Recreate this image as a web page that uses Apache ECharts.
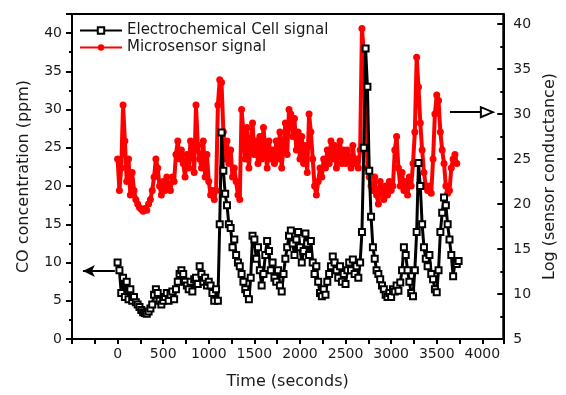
<!DOCTYPE html>
<html>
<head>
<meta charset="utf-8">
<script src="https://cdn.jsdelivr.net/npm/echarts@6/dist/echarts.min.js"></script>
<style>
html, body { margin: 0; padding: 0; background: #fff; }
#chart { width: 566px; height: 395px; }
</style>
</head>
<body>
<div id="chart"></div>
<script>
// sampling step of both signals (seconds)
var timeStep = 20;

// Electrochemical cell signal, CO (ppm), left axis, t = 0, 20, 40 ...
var cellSignal = [
	10.0, 9.0, 6.0, 8.0, 5.5, 7.5, 5.2, 6.5, 5.0, 5.5,
	4.8, 4.5, 4.2, 3.8, 3.5, 3.4, 3.3, 3.6, 4.0, 4.5,
	5.8, 6.5, 6.0, 5.0, 4.5, 5.0, 5.5, 6.0, 5.0, 5.8,
	6.2, 5.2, 6.5, 7.5, 8.5, 9.0, 8.5, 7.5, 7.0, 6.5,
	7.5, 6.2, 7.8, 8.0, 7.2, 9.5, 8.5, 7.5, 8.0, 7.0,
	7.5, 7.0, 6.0, 5.0, 6.5, 5.0, 15.0, 27.0, 22.0, 19.0,
	17.5, 15.0, 14.5, 12.0, 13.0, 11.0, 10.0, 9.5, 8.5, 7.5,
	6.5, 6.0, 5.2, 8.0, 13.5, 13.0, 10.5, 12.0, 9.0, 7.0,
	8.5, 11.0, 12.8, 11.5, 9.0, 10.0, 8.0, 7.5, 9.0, 7.0,
	6.2, 8.5, 10.5, 12.0, 13.5, 14.2, 12.5, 11.0, 13.0, 14.0,
	12.0, 10.0, 11.5, 13.8, 12.5, 11.0, 12.8, 10.0, 8.5, 9.5,
	7.5, 6.0, 5.6, 6.5, 5.8, 7.5, 8.5, 9.5, 10.8, 10.0,
	9.0, 8.0, 9.5, 7.5, 8.5, 7.2, 9.0, 10.0, 9.0, 10.4,
	8.5, 9.5, 8.0, 10.0, 14.0, 25.0, 38.0, 33.0, 22.0, 16.0,
	12.0, 10.5, 9.0, 8.5, 7.8, 7.0, 6.5, 5.8, 5.5, 6.0,
	5.5, 6.5, 6.2, 7.0, 6.3, 7.4, 9.0, 12.0, 11.0, 9.0,
	7.5, 6.0, 5.6, 9.0, 14.0, 23.0, 20.0, 15.0, 12.0, 10.5,
	9.5, 11.0, 8.5, 7.8, 6.5, 6.1, 9.0, 14.0, 16.5, 18.5,
	17.5, 15.0, 13.0, 11.0, 8.2, 10.0, 9.8, 10.2
];

// Microsensor signal, log (sensor conductance), right axis
var sensorSignal = [
	25.0, 21.5, 24.0, 31.0, 27.0, 22.5, 25.0, 21.0, 23.5, 21.5,
	20.5, 20.0, 19.6, 19.4, 19.2, 19.5, 19.3, 20.0, 20.5, 21.5,
	23.0, 25.0, 24.0, 22.0, 21.0, 22.5, 21.5, 23.0, 22.0, 21.5,
	23.0, 22.5, 25.5, 27.0, 25.0, 26.0, 24.5, 23.0, 25.5, 24.0,
	27.0, 26.0, 23.5, 31.0, 26.5, 25.0, 24.0, 27.0, 23.0, 25.5,
	22.5, 21.0, 21.5, 20.5, 21.5, 31.0, 33.8, 33.5, 28.0, 25.0,
	27.0, 24.5, 26.0, 23.0, 24.0, 22.5, 21.0, 20.5, 30.5, 28.0,
	25.0, 28.5, 24.0, 26.5, 29.0, 25.5, 27.0, 24.5, 27.5, 25.0,
	28.5, 26.0, 24.0, 27.0, 25.0, 26.0, 24.5, 27.0, 25.0, 28.0,
	24.0, 26.5, 29.0, 25.5, 30.5, 30.0, 27.5, 29.5, 26.0, 28.0,
	25.0, 27.5, 24.5, 26.5, 23.5, 30.0, 28.0, 25.0, 22.0, 21.0,
	22.5, 24.0, 23.0, 25.0, 24.0, 26.0, 24.5, 27.0, 25.0, 26.5,
	24.0, 25.5, 27.0, 24.5, 26.0, 24.5, 26.0, 25.0, 24.0, 26.5,
	24.5, 25.0, 24.0, 26.0, 39.5, 37.0, 33.0, 24.0, 23.0, 22.0,
	21.5, 23.0, 21.0, 20.0, 22.5, 21.5, 20.5, 22.0, 21.0, 22.5,
	21.5, 22.0, 26.0, 27.5, 24.0, 22.0, 23.5, 21.5, 22.5, 21.0,
	23.0, 22.0, 24.5, 28.0, 36.3, 33.0, 29.0, 26.0, 23.5, 22.0,
	21.5, 22.0, 21.2, 25.0, 30.0, 32.1, 31.5, 28.0, 26.0, 24.5,
	22.0, 21.2, 21.5, 24.0, 25.0, 25.5, 24.5
];

var seriesNames = ['Electrochemical Cell signal', 'Microsensor signal'];

function toPairs(values) {
	var out = [];
	for(var i = 0; i < values.length; i++) {
		out.push([i * timeStep, values[i]]);
	}
	return out;
}

var fontName = 'DejaVu Sans';
var textColor = '#1a1a1a';

var chart = echarts.init(document.getElementById('chart'), null, { renderer: 'canvas' });

var option = {
	animation: false,
	textStyle: { fontFamily: fontName, color: textColor },
	grid: {
		left: 72, right: 54, top: 14, bottom: 55,
		show: true, borderColor: '#000', borderWidth: 2
	},
	legend: {
		orient: 'vertical',
		left: 79, top: 23,
		padding: 0,
		itemWidth: 42, itemHeight: 8, itemGap: 2,
		textStyle: { fontFamily: fontName, fontSize: 15, color: textColor },
		data: seriesNames
	},
	xAxis: {
		type: 'value',
		min: -500, max: 4230, interval: 500,
		name: 'Time (seconds)',
		nameLocation: 'middle', nameGap: 35,
		nameTextStyle: { fontFamily: fontName, fontSize: 16, color: textColor },
		axisLine: { onZero: false, lineStyle: { color: '#000', width: 2 } },
		axisTick: { length: 5, lineStyle: { color: '#000', width: 2 } },
		minorTick: { show: true, splitNumber: 2, length: 5, lineStyle: { color: '#000', width: 2 } },
		axisLabel: {
			fontSize: 14, color: textColor, margin: 8,
			formatter: function(v) { return (v >= 0 && v % 500 === 0) ? String(v) : ''; }
		},
		splitLine: { show: false }
	},
	yAxis: [{
		type: 'value',
		min: 0, max: 42.5, interval: 5,
		name: 'CO concentration (ppm)',
		nameLocation: 'middle', nameGap: 40,
		nameTextStyle: { fontFamily: fontName, fontSize: 16, color: textColor },
		axisLine: { onZero: false, lineStyle: { color: '#000', width: 2 } },
		axisTick: { length: 6, lineStyle: { color: '#000', width: 2 } },
		minorTick: { show: true, splitNumber: 2, length: 3, lineStyle: { color: '#000', width: 2 } },
		axisLabel: {
			fontSize: 14, color: textColor, margin: 10,
			formatter: function(v) { return v % 5 === 0 ? String(v) : ''; }
		},
		splitLine: { show: false }
	}, {
		type: 'value',
		position: 'right',
		min: 5, max: 41.1, interval: 5,
		name: 'Log (sensor conductance)',
		nameLocation: 'middle', nameGap: 29,
		nameTextStyle: { fontFamily: fontName, fontSize: 16, color: textColor },
		axisLine: { onZero: false, lineStyle: { color: '#000', width: 2 } },
		axisTick: { inside: true, length: 6, lineStyle: { color: '#000', width: 2 } },
		minorTick: { show: true, splitNumber: 2, length: 3, lineStyle: { color: '#000', width: 2 } },
		axisLabel: {
			fontSize: 14, color: textColor, margin: 10,
			formatter: function(v) { return v % 5 === 0 ? String(v) : ''; }
		},
		splitLine: { show: false }
	}],
	series: [{
		name: seriesNames[0],
		type: 'line',
		yAxisIndex: 0,
		z: 4,
		data: toPairs(cellSignal),
		symbol: 'emptyRect',
		symbolSize: 6,
		showAllSymbol: true,
		color: '#000',
		itemStyle: { color: '#000', borderWidth: 2 },
		lineStyle: { color: '#000', width: 3 },
		markLine: {
			silent: true,
			symbol: ['none', 'arrow'],
			symbolSize: [9, 12],
			label: { show: false },
			lineStyle: { color: '#000', width: 2, type: 'solid' },
			data: [[{ coord: [-30, 8.9] }, { coord: [-380, 8.9] }]]
		}
	}, {
		name: seriesNames[1],
		type: 'line',
		yAxisIndex: 1,
		z: 3,
		data: toPairs(sensorSignal),
		symbol: 'circle',
		symbolSize: 7,
		showAllSymbol: true,
		color: '#ff0000',
		itemStyle: { color: '#ff0000' },
		lineStyle: { color: '#ff0000', width: 4 },
		markLine: {
			silent: true,
			symbol: ['none', 'emptyTriangle'],
			symbolSize: [10, 12],
			label: { show: false },
			lineStyle: { color: '#000', width: 2, type: 'solid' },
			data: [[{ coord: [3645, 30.2] }, { coord: [4050, 30.2] }]]
		}
	}]
};

chart.setOption(option);
</script>
</body>
</html>
